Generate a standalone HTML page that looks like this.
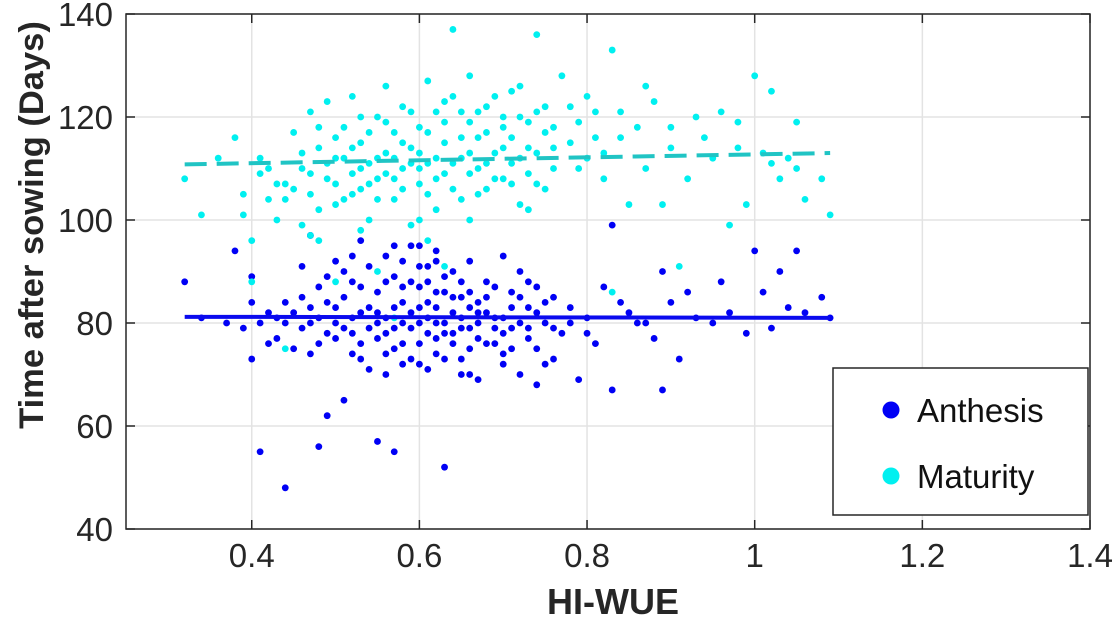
<!DOCTYPE html>
<html><head><meta charset="utf-8">
<style>
html,body{margin:0;padding:0;background:#fff;}
svg{display:block;font-family:"Liberation Sans",Arial,sans-serif;}
</style></head>
<body>
<svg id="chart" width="1119" height="636" viewBox="0 0 1119 636" xmlns="http://www.w3.org/2000/svg"></svg>
<script>
const xTicks=[0.4,0.6,0.8,1,1.2,1.4];
const xTickLabels=["0.4","0.6","0.8","1","1.2","1.4"];
const yTicks=[40,60,80,100,120,140];
const yTickLabels=["40","60","80","100","120","140"];
const anthX=[0.32,0.34,0.37,0.38,0.39,0.40,0.40,0.41,0.42,0.43,0.44,0.44,0.45,0.46,0.46,0.47,0.47,0.48,0.48,0.49,0.49,0.50,0.50,0.51,0.51,0.52,0.52,0.53,0.53,0.54,0.54,0.55,0.55,0.55,0.56,0.56,0.57,0.57,0.57,0.58,0.58,0.59,0.59,0.60,0.60,0.60,0.61,0.61,0.62,0.62,0.62,0.63,0.63,0.63,0.64,0.64,0.65,0.65,0.66,0.66,0.67,0.67,0.68,0.68,0.69,0.70,0.70,0.71,0.71,0.72,0.72,0.73,0.73,0.74,0.74,0.75,0.75,0.76,0.77,0.78,0.79,0.80,0.81,0.82,0.83,0.83,0.85,0.87,0.88,0.89,0.89,0.90,0.91,0.92,0.93,0.96,0.97,0.99,1.00,1.01,1.02,1.03,1.04,1.05,1.06,1.08,1.09,0.58,0.65,0.69,0.53,0.61,0.67,0.56,0.48,0.44,0.42];
const anthY=[88,81,80,94,79,89,73,55,82,77,48,84,75,91,79,97,83,56,87,78,62,92,80,65,85,74,88,82,96,79,71,57,86,77,93,81,55,75,89,84,72,95,79,87,76,83,91,71,80,94,74,52,86,78,90,82,73,85,92,79,69,84,88,76,81,93,74,86,79,70,90,83,77,68,87,80,72,85,78,83,69,81,76,87,67,99,82,80,77,90,67,84,73,86,81,88,82,78,94,86,79,90,83,94,82,85,81,92,70,76,73,88,82,70,81,80,76];
const anthX2=[0.45,0.46,0.47,0.48,0.49,0.50,0.50,0.51,0.51,0.52,0.52,0.53,0.53,0.54,0.54,0.55,0.55,0.56,0.56,0.56,0.57,0.57,0.58,0.58,0.58,0.59,0.59,0.59,0.60,0.60,0.60,0.61,0.61,0.61,0.62,0.62,0.62,0.63,0.63,0.63,0.64,0.64,0.64,0.65,0.65,0.65,0.66,0.66,0.66,0.67,0.67,0.68,0.68,0.69,0.69,0.70,0.70,0.71,0.71,0.72,0.72,0.73,0.73,0.74,0.74,0.75,0.76,0.76,0.78,0.80,0.84,0.86,0.95,0.40,0.43,0.41,0.47,0.49,0.52,0.57,0.60,0.62,0.66,0.70];
const anthY2=[82,85,80,76,84,83,77,79,90,81,78,87,76,83,91,80,82,78,88,74,83,79,80,87,76,82,73,88,80,91,72,84,78,81,86,77,83,80,89,73,85,78,76,81,88,79,83,75,86,80,77,82,85,79,87,81,78,83,75,80,85,79,88,82,75,84,79,73,80,78,84,80,80,84,81,80,74,89,93,95,95,92,70,72];
const matX=[0.32,0.34,0.36,0.38,0.39,0.40,0.41,0.42,0.43,0.44,0.44,0.45,0.46,0.46,0.47,0.47,0.48,0.49,0.49,0.50,0.50,0.51,0.52,0.52,0.53,0.53,0.54,0.54,0.55,0.55,0.56,0.56,0.57,0.57,0.58,0.58,0.59,0.59,0.60,0.60,0.61,0.61,0.62,0.62,0.63,0.63,0.64,0.64,0.65,0.65,0.66,0.66,0.67,0.67,0.68,0.68,0.69,0.70,0.70,0.71,0.71,0.72,0.72,0.73,0.74,0.74,0.75,0.75,0.76,0.77,0.78,0.79,0.80,0.80,0.81,0.82,0.83,0.84,0.85,0.86,0.87,0.88,0.89,0.90,0.91,0.92,0.93,0.95,0.96,0.97,0.98,0.99,1.00,1.01,1.02,1.03,1.04,1.05,1.06,1.08,1.09,0.48,0.57,0.61,0.40,0.50,0.55,0.83,0.63];
const matY=[108,101,112,116,101,96,109,104,100,75,107,117,110,99,121,105,114,108,123,103,112,118,109,124,106,115,111,100,120,108,126,113,104,117,110,122,99,114,118,107,127,111,102,121,115,109,137,124,112,104,119,128,110,116,106,122,113,118,108,125,111,103,120,114,136,107,117,122,110,128,115,119,112,124,121,108,133,116,103,118,110,123,103,114,91,108,120,112,121,99,119,103,128,113,125,108,112,119,104,108,101,96,81,96,88,88,90,86,91];
const matX2=[0.44,0.45,0.46,0.47,0.48,0.48,0.49,0.50,0.50,0.51,0.51,0.52,0.52,0.53,0.53,0.54,0.54,0.55,0.55,0.56,0.56,0.57,0.57,0.58,0.58,0.59,0.59,0.60,0.60,0.61,0.61,0.62,0.62,0.63,0.63,0.64,0.64,0.65,0.65,0.66,0.66,0.67,0.67,0.68,0.68,0.69,0.69,0.70,0.70,0.71,0.71,0.72,0.72,0.73,0.73,0.74,0.74,0.75,0.76,0.76,0.78,0.79,0.81,0.82,0.84,0.87,0.90,0.94,0.98,1.02,1.05,0.42,0.43,0.41,0.39,0.47,0.53,0.60,0.66,0.73];
const matY2=[104,106,113,109,102,118,111,107,116,104,112,114,105,110,120,107,117,112,104,109,119,112,108,115,106,111,121,113,110,105,117,112,108,119,123,111,106,116,121,109,113,121,105,117,111,108,124,114,120,107,116,112,126,109,119,113,121,106,118,114,122,110,116,113,121,126,118,116,114,111,110,110,107,112,105,97,98,100,100,102];
const anthFit=[81.2,81.0];
const matFit=[110.8,113.0];
const fitX=[0.32,1.09];

const NS="http://www.w3.org/2000/svg";
const svg=document.getElementById('chart');
const L=126,R=1090,T=14,B=529;
const xMin=0.25,xMax=1.4,yMin=40,yMax=140;
const sx=v=>L+(v-xMin)/(xMax-xMin)*(R-L);
const sy=v=>B-(v-yMin)/(yMax-yMin)*(B-T);
function mk(tag,attrs,parent){const e=document.createElementNS(NS,tag);for(const k in attrs)e.setAttribute(k,attrs[k]);(parent||svg).appendChild(e);return e;}

const grid=mk('g',{});


xTicks.forEach(t=>{mk('line',{x1:sx(t),x2:sx(t),y1:T,y2:B,stroke:'#e3e3e3','stroke-width':1.5},grid);});
yTicks.forEach(t=>{mk('line',{x1:L,x2:R,y1:sy(t),y2:sy(t),stroke:'#e3e3e3','stroke-width':1.5},grid);});

const anth=mk('g',{fill:'#0000f5'});


const aX=anthX.concat(anthX2), aY=anthY.concat(anthY2);
aX.forEach((x,i)=>{const c=mk('circle',{cx:sx(x),cy:sy(aY[i]),r:3.4},anth);

});
const mat=mk('g',{fill:'#00f0f0'});


const mX=matX.concat(matX2), mY=matY.concat(matY2);
mX.forEach((x,i)=>{const c=mk('circle',{cx:sx(x),cy:sy(mY[i]),r:3.4},mat);

});

const l1=mk('line',{x1:sx(fitX[0]),x2:sx(fitX[1]),y1:sy(anthFit[0]),y2:sy(anthFit[1]),stroke:'#0a0aee','stroke-width':4});


const l2=mk('line',{x1:sx(fitX[0]),x2:sx(fitX[1]),y1:sy(matFit[0]),y2:sy(matFit[1]),stroke:'#20c4c4','stroke-width':4,'stroke-dasharray':'22 10'});



const box=mk('rect',{x:L,y:T,width:R-L,height:B-T,fill:'none',stroke:'#262626','stroke-width':1.5});


xTicks.forEach((t,i)=>{
 mk('line',{x1:sx(t),x2:sx(t),y1:B,y2:B-9,stroke:'#262626','stroke-width':1.5});
 mk('line',{x1:sx(t),x2:sx(t),y1:T,y2:T+9,stroke:'#262626','stroke-width':1.5});
 const tx=mk('text',{x:sx(t),y:567,'text-anchor':'middle','font-size':33,fill:'#262626'});
 tx.textContent=xTickLabels[i];
 
 
});
yTicks.forEach((t,i)=>{
 mk('line',{x1:L,x2:L+9,y1:sy(t),y2:sy(t),stroke:'#262626','stroke-width':1.5});
 mk('line',{x1:R,x2:R-9,y1:sy(t),y2:sy(t),stroke:'#262626','stroke-width':1.5});
 const tx=mk('text',{x:113,y:sy(t)+12,'text-anchor':'end','font-size':33,fill:'#262626'});
 tx.textContent=yTickLabels[i];
 
 
});
const xt=mk('text',{x:613,y:614,'text-anchor':'middle','font-size':36,'font-weight':'bold',fill:'#262626'});
xt.textContent='HI-WUE';


const yt=mk('text',{x:0,y:0,'text-anchor':'middle','font-size':34.5,'font-weight':'bold',fill:'#262626',transform:'translate(43,225) rotate(-90)'});
yt.textContent='Time after sowing (Days)';



const lg=mk('g',{});


mk('rect',{x:833,y:368,width:255,height:147,fill:'#fff',stroke:'#262626','stroke-width':1.5},lg);
mk('circle',{cx:891,cy:410,r:8.5,fill:'#0000f5'},lg);
mk('circle',{cx:891,cy:476,r:8.5,fill:'#00f0f0'},lg);
const e1=mk('text',{x:917,y:422,'font-size':33,fill:'#111'},lg);e1.textContent='Anthesis';


const e2=mk('text',{x:917,y:488,'font-size':33,fill:'#111'},lg);e2.textContent='Maturity';


</script>
</body></html>
